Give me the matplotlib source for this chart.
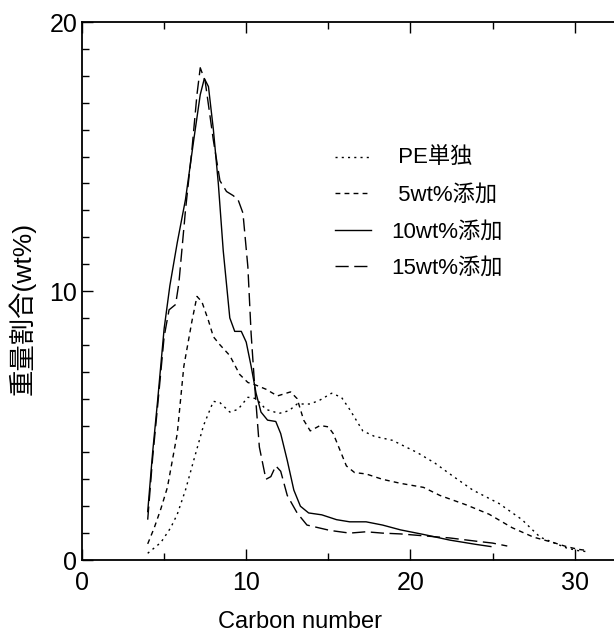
import numpy as np
import matplotlib
matplotlib.use("Agg")
import matplotlib.pyplot as plt
from matplotlib.ticker import MultipleLocator

plt.rcParams['font.family'] = ['Liberation Sans', 'Noto Sans CJK JP', 'DejaVu Sans']

# PE only (dotted)
pe_x = [4.0, 4.4, 4.8, 5.4, 5.8, 6.3, 6.8, 7.4, 8.0, 8.4, 9.0, 9.5, 10.1, 10.6,
        11.2, 12.0, 12.6, 13.1, 13.9, 14.5, 15.2, 15.8, 16.3, 17.1, 17.8, 18.9,
        20.4, 21.5, 22.4, 23.8, 25.4, 26.8, 27.3, 27.9, 28.7, 29.5, 30.2, 30.9]
pe_y = [0.25, 0.45, 0.65, 1.2, 1.7, 2.6, 3.7, 5.0, 5.9, 5.85, 5.5, 5.6, 6.05, 6.0,
        5.6, 5.45, 5.55, 5.8, 5.8, 5.95, 6.2, 6.05, 5.6, 4.8, 4.6, 4.45,
        4.0, 3.6, 3.2, 2.6, 2.1, 1.5, 1.2, 0.85, 0.65, 0.45, 0.35, 0.3]

# 5 wt% additive (short dashes)
w5_x = [4.0, 4.4, 4.8, 5.2, 5.8, 6.2, 6.7, 7.0, 7.3, 7.7, 8.0, 8.4, 9.0, 9.6,
        10.1, 10.6, 11.2, 11.9, 12.7, 13.1, 13.5, 13.9, 14.5, 15.0, 15.3, 15.7,
        16.1, 16.6, 17.3, 18.3, 19.4, 20.8, 21.8, 23.4, 24.8, 26.2, 27.5, 28.7,
        29.5, 30.2, 30.8]
w5_y = [0.6, 1.2, 1.9, 2.7, 4.7, 7.2, 8.9, 9.8, 9.6, 8.9, 8.3, 8.0, 7.6, 6.9,
        6.6, 6.5, 6.35, 6.1, 6.25, 6.0, 5.2, 4.8, 5.0, 4.95, 4.7, 4.1,
        3.5, 3.25, 3.2, 3.0, 2.85, 2.7, 2.4, 2.05, 1.7, 1.2, 0.85, 0.65,
        0.5, 0.4, 0.35]

# 10 wt% additive (solid)
w10_x = [4.0, 4.3, 4.6, 5.0, 5.35, 5.8, 6.3, 6.8, 7.2, 7.45, 7.7, 8.0, 8.3, 8.6,
         9.0, 9.3, 9.7, 10.0, 10.3, 10.6, 10.9, 11.3, 11.8, 12.1, 12.5, 12.9,
         13.3, 13.8, 14.6, 15.5, 16.3, 17.3, 18.3, 19.4, 20.8, 22.4, 24.0, 24.9]
w10_y = [1.8, 4.0, 5.9, 8.6, 10.2, 11.8, 13.4, 15.6, 17.3, 17.9, 17.6, 16.0, 14.0, 11.5,
         9.0, 8.5, 8.5, 8.1, 7.2, 6.2, 5.5, 5.2, 5.15, 4.7, 3.7, 2.6,
         2.0, 1.75, 1.68, 1.5, 1.42, 1.42, 1.3, 1.12, 0.95, 0.74, 0.58, 0.5]

# 15 wt% additive (long dashes)
w15_x = [4.0, 4.3, 4.6, 5.0, 5.3, 5.7, 5.9, 6.3, 6.7, 7.0, 7.2, 7.5, 8.0, 8.4,
         8.8, 9.2, 9.5, 9.8, 10.1, 10.3, 10.5, 10.8, 11.2, 11.5, 11.8, 12.1,
         12.5, 13.1, 13.7, 14.4, 15.1, 16.3, 17.3, 18.3, 19.4, 20.8, 22.4, 24.0,
         25.0, 25.9]
w15_y = [1.5, 3.8, 5.7, 8.3, 9.3, 9.5, 10.3, 13.0, 15.3, 17.3, 18.3, 17.8, 15.6, 14.1,
         13.7, 13.55, 13.4, 12.9, 10.9, 8.4, 6.6, 4.2, 3.0, 3.1, 3.5, 3.3,
         2.4, 1.75, 1.3, 1.2, 1.1, 1.0, 1.05, 1.0, 0.97, 0.9, 0.82, 0.7,
         0.63, 0.52]

labels = [' PE単独', ' 5wt%添加', '10wt%添加', '15wt%添加']

fig = plt.figure(figsize=(6.14, 6.33), dpi=100)
ax = fig.add_axes([0.1336, 0.1153, 0.8664, 0.8499])

ax.plot(pe_x, pe_y, color='black', lw=1.0, dashes=(1.5, 3.0), label=labels[0])
ax.plot(w5_x, w5_y, color='black', lw=1.0, dashes=(3.5, 3.0), label=labels[1])
ax.plot(w10_x, w10_y, color='black', lw=1.0, label=labels[2])
ax.plot(w15_x, w15_y, color='black', lw=1.0, dashes=(9.5, 4.0), label=labels[3])

ax.set_xlim(0, 32.4)
ax.set_ylim(0, 20)
ax.xaxis.set_major_locator(MultipleLocator(10))
ax.xaxis.set_minor_locator(MultipleLocator(5))
ax.yaxis.set_major_locator(MultipleLocator(10))
ax.yaxis.set_minor_locator(MultipleLocator(1))
ax.tick_params(which='both', direction='in', top=True, right=False, labelsize=18, width=1)
ax.tick_params(which='major', length=8)
ax.tick_params(which='minor', length=5)
ax.tick_params(axis='x', pad=8)
ax.spines['right'].set_visible(False)
for s in ['left', 'top', 'bottom']:
    ax.spines[s].set_linewidth(1.3)

ax.set_xlabel('Carbon number', fontsize=17)
ax.set_ylabel('重量割合(wt%)', fontsize=19)
ax.xaxis.set_label_coords(0.41, -0.095)
ax.yaxis.set_label_coords(-0.088, 0.467)

ax.legend(loc='upper left', bbox_to_anchor=(0.4756, 0.765), frameon=False,
          fontsize=16, handlelength=1.6, handletextpad=0.95, labelspacing=0.7,
          borderpad=0, borderaxespad=0)

fig.savefig('out.png', dpi=100)
